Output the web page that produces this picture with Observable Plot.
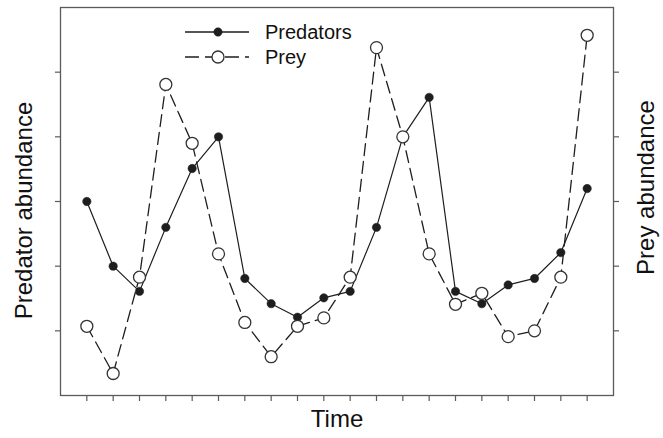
<!DOCTYPE html>
<html>
<head>
<meta charset="utf-8">
<script src="https://cdn.jsdelivr.net/npm/d3@7"></script>
<script src="https://cdn.jsdelivr.net/npm/@observablehq/plot@0.6"></script>
<style>
  html, body { margin: 0; padding: 0; background: #fff; }
  #wrap { position: relative; width: 663px; height: 438px; font-family: "Liberation Sans", Arial, sans-serif; }
  #legend { position: absolute; left: 0; top: 0; pointer-events: none; }
</style>
</head>
<body>
<div id="wrap"></div>
<script>
// Data (arbitrary abundance units, 0-6)
const timeSteps = [1,2,3,4,5,6,7,8,9,10,11,12,13,14,15,16,17,18,19,20];
const predators = [3.0, 2.0, 1.61, 2.6, 3.51, 4.0, 1.81, 1.42, 1.21, 1.51, 1.61, 2.6, 4.0, 4.61, 1.61, 1.42, 1.71, 1.81, 2.21, 3.2];
const prey      = [1.07, 0.34, 1.83, 4.81, 3.9, 2.19, 1.13, 0.6, 1.07, 1.2, 1.83, 5.38, 4.0, 2.19, 1.41, 1.58, 0.91, 1.0, 1.83, 5.57];
const yTicks = [1, 2, 3, 4, 5];
const seriesNames = ["Predators", "Prey"];
const xTitle = "Time";
const yLeftTitle = "Predator abundance";
const yRightTitle = "Prey abundance";

const predData = timeSteps.map((t, i) => ({t, v: predators[i]}));
const preyData = timeSteps.map((t, i) => ({t, v: prey[i]}));

const ink = "#1e1e1e";
const axisColor = "#5a5a5a";
const font = "'Liberation Sans', Arial, sans-serif";

const chart = Plot.plot({
  width: 663,
  height: 438,
  marginTop: 7,
  marginRight: 50,
  marginBottom: 43,
  marginLeft: 60,
  style: {fontFamily: font, color: axisColor, background: "#fff", overflow: "visible"},
  x: {domain: [0, 21], axis: null},
  y: {domain: [0, 6], axis: null},
  marks: [
    Plot.frame({stroke: axisColor, strokeWidth: 1.3}),
    Plot.axisX({ticks: timeSteps, tickSize: 6, tickFormat: () => "", label: null, stroke: axisColor, strokeWidth: 1.2}),
    Plot.axisY({anchor: "left", ticks: yTicks, tickSize: 5, tickFormat: () => "", label: null, stroke: axisColor, strokeWidth: 1.2}),
    Plot.axisY({anchor: "right", ticks: yTicks, tickSize: 5, tickFormat: () => "", label: null, stroke: axisColor, strokeWidth: 1.2}),
    Plot.line(predData, {x: "t", y: "v", stroke: ink, strokeWidth: 1.2}),
    Plot.line(preyData, {x: "t", y: "v", stroke: ink, strokeWidth: 1.3, strokeDasharray: "12,6"}),
    Plot.dot(predData, {x: "t", y: "v", r: 4.2, fill: ink, stroke: ink, strokeWidth: 0.5}),
    Plot.dot(preyData, {x: "t", y: "v", r: 6, fill: "#fff", stroke: "#333", strokeWidth: 1.3}),
    Plot.text([xTitle], {frameAnchor: "bottom", text: d => d, dy: 31, fontSize: 24, fill: "#111"}),
    Plot.text([yLeftTitle], {frameAnchor: "left", textAnchor: "middle", text: d => d, rotate: -90, dx: -36, dy: 9, fontSize: 24, fill: "#111"}),
    Plot.text([yRightTitle], {frameAnchor: "right", textAnchor: "middle", text: d => d, rotate: -90, dx: 33, dy: -14, fontSize: 24, fill: "#111"})
  ]
});
document.getElementById("wrap").appendChild(chart);

// Legend overlay (inside the plot frame, upper left)
const lg = d3.select("#wrap").append("svg")
  .attr("id", "legend").attr("width", 663).attr("height", 438);
const rows = [
  {name: seriesNames[0], y: 32, dash: null, fill: ink, r: 4.2},
  {name: seriesNames[1], y: 57, dash: "14,6", fill: "#fff", r: 6}
];
rows.forEach(row => {
  const g = lg.append("g");
  g.append("line").attr("x1", 185).attr("x2", 249).attr("y1", row.y).attr("y2", row.y)
    .attr("stroke", ink).attr("stroke-width", 1.3)
    .attr("stroke-dasharray", row.dash);
  g.append("circle").attr("cx", 218).attr("cy", row.y).attr("r", row.r)
    .attr("fill", row.fill).attr("stroke", row.dash ? "#333" : ink).attr("stroke-width", row.dash ? 1.3 : 0.5);
  g.append("text").attr("x", 265).attr("y", row.y).attr("dy", "0.35em")
    .attr("font-family", font).attr("font-size", 20).attr("fill", "#111").text(row.name);
});
</script>
</body>
</html>
